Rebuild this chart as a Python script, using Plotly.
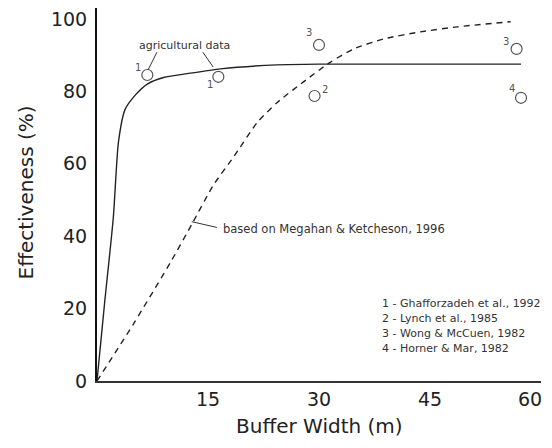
import plotly.graph_objects as go

# Solid curve (agricultural data fit)
solid_x = [0, 1, 2.2, 2.9, 3.8, 5.2, 6.8, 9, 12.6, 16.7, 24.3, 30, 40, 57.3]
solid_y = [0, 21, 45, 66, 75, 79, 82, 83.8, 85, 86.2, 87.3, 87.5, 87.5, 87.5]

# Dashed curve (Megahan & Ketcheson, 1996)
dash_x = [0, 5, 10, 12.9, 15.7, 18.5, 21.7, 24.4, 27.9, 31.5, 34.7, 38.8, 43.7, 48.7, 55.9]
dash_y = [0, 16, 33, 43.6, 54, 62, 71.5, 77, 82.6, 88, 91.7, 94.5, 96.4, 97.8, 99.2]

# Study points
pt_x = [6.8, 16.4, 30.0, 29.4, 56.7, 57.3]
pt_y = [84.5, 84.0, 92.8, 78.7, 91.7, 78.2]
pt_lab = ["1", "1", "3", "2", "3", "4"]

legend_lines = ["1 - Ghafforzadeh et al., 1992", "2 - Lynch et al., 1985",
                "3 - Wong & McCuen, 1982", "4 - Horner & Mar, 1982"]

x_ticks = [15, 30, 45, 60]
x_ticktext = ["15", "30", "45", ""]   # last label drawn right-aligned so it stays on the page
y_ticks = [0, 20, 40, 60, 80, 100]

FONT = "DejaVu Sans"

fig = go.Figure()
fig.add_trace(go.Scatter(x=solid_x, y=solid_y, mode="lines",
                         line=dict(color="#222", width=1.4, shape="spline", smoothing=0.6),
                         hoverinfo="skip"))
fig.add_trace(go.Scatter(x=dash_x, y=dash_y, mode="lines",
                         line=dict(color="#222", width=1.4, dash="6px,5px", shape="spline", smoothing=0.6),
                         hoverinfo="skip"))
fig.add_trace(go.Scatter(x=pt_x, y=pt_y, mode="markers",
                         marker=dict(symbol="circle-open", size=11, color="#555", line=dict(width=1.2)),
                         hoverinfo="skip"))

# point labels offsets (px)
offsets = [(-9, -8), (-8, 8), (-10, -12), (10, -7), (-11, -7), (-9, -9)]
ann = []
for x, y, t, (ax, ay) in zip(pt_x, pt_y, pt_lab, offsets):
    ann.append(dict(x=x, y=y, text=t, showarrow=False, xshift=ax, yshift=-ay,
                    font=dict(family=FONT, size=10, color="#555")))

ann.append(dict(x=11.8, y=92.6, text="agricultural data", showarrow=False,
                font=dict(family=FONT, size=11, color="#333")))
ann.append(dict(x=16.8, y=42.0, text="based on Megahan & Ketcheson, 1996", showarrow=False,
                xanchor="left", font=dict(family=FONT, size=11.5, color="#333")))
for i, t in enumerate(legend_lines):
    ann.append(dict(x=38.3, y=21.3 - i * 4.15, text=t, showarrow=False, xanchor="left",
                    font=dict(family=FONT, size=11, color="#333")))

# last x tick label
ann.append(dict(x=x_ticks[-1], xanchor="right", xshift=3, yref="paper", y=0, yanchor="middle",
                yshift=-18, text=str(x_ticks[-1]), showarrow=False,
                font=dict(family=FONT, size=19, color="#222")))

ann.append(dict(xref="paper", yref="paper", x=0.5, y=0, yanchor="bottom", yshift=-59,
                text="Buffer Width (m)",
                showarrow=False, font=dict(family=FONT, size=20, color="#222")))
ann.append(dict(xref="paper", yref="paper", x=0, xshift=-86, y=0.5, yshift=2, text="Effectiveness (%)",
                textangle=-90, showarrow=False, font=dict(family=FONT, size=20, color="#222")))

shapes = [
    dict(type="line", x0=8.1, y0=90.8, x1=6.9, y1=85.9, line=dict(color="#333", width=1)),
    dict(type="line", x0=14.3, y0=90.8, x1=15.7, y1=86.7, line=dict(color="#333", width=1)),
    dict(type="line", x0=12.8, y0=44.0, x1=16.2, y1=42.4, line=dict(color="#333", width=1)),
]

# the page body adds an 8px margin, so the figure is drawn smaller to fit the window
fig.update_layout(
    width=536, height=432,
    margin=dict(l=89, r=3, t=0, b=59),
    paper_bgcolor="white", plot_bgcolor="white",
    showlegend=False,
    annotations=ann, shapes=shapes,
    xaxis=dict(range=[0, 60], tickvals=x_ticks, ticktext=x_ticktext, showgrid=False, zeroline=False,
               showline=True, linecolor="#333", linewidth=2, ticks="",
               ticklabeloverflow="allow",
               tickfont=dict(family=FONT, size=19, color="#222")),
    yaxis=dict(range=[0, 103], tickvals=y_ticks, showgrid=False, zeroline=False,
               showline=True, linecolor="#111", linewidth=2, ticks="", ticklabelstandoff=4,
               ticklabeloverflow="allow",
               tickfont=dict(family=FONT, size=19, color="#222")),
)

fig.write_html("out.html")
